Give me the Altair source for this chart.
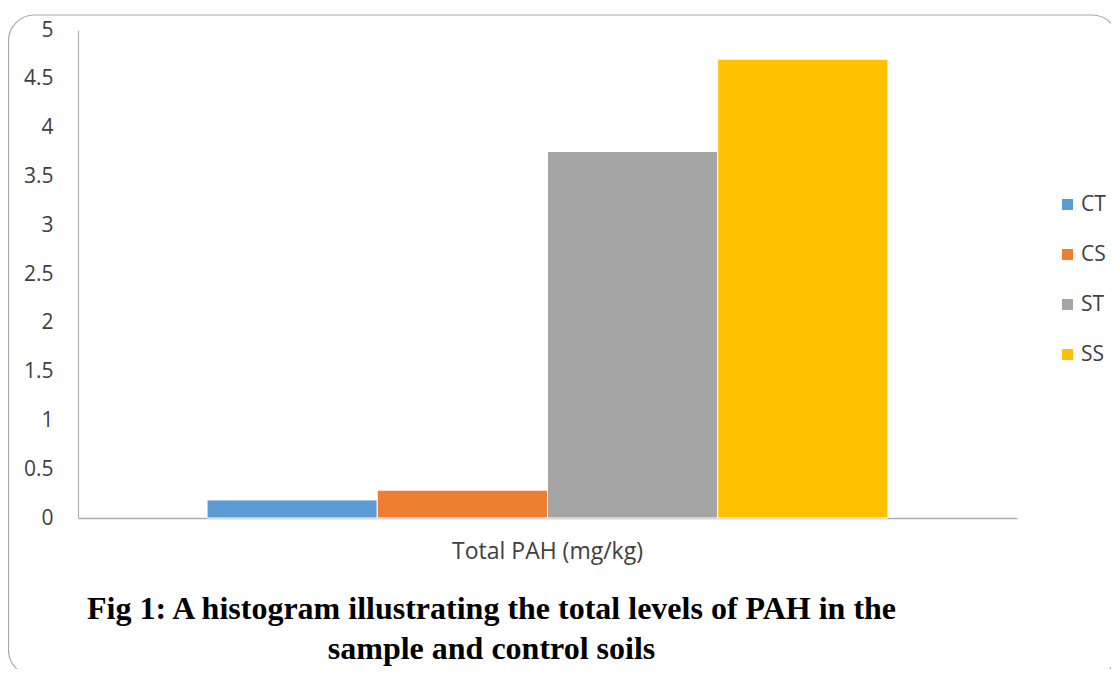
import altair as alt
import pandas as pd

series = ["CT", "CS", "ST", "SS"]
values = [0.185, 0.285, 3.755, 4.70]
group = ["Total PAH (mg/kg)"] * 4
colors = ["#5B9BD5", "#ED7D31", "#A5A5A5", "#FFC000"]
y_ticks = [0, 0.5, 1, 1.5, 2, 2.5, 3, 3.5, 4, 4.5, 5]
caption = ["Fig 1:  A histogram illustrating the total levels of PAH in the",
           "sample and control soils"]

df = pd.DataFrame({"group": group, "series": series, "value": values})

W, H = 939, 488
PAD = {"left": 70, "top": 22, "right": 94, "bottom": 151}

border = alt.Chart(pd.DataFrame({"k": [0]})).mark_rect(
    filled=False, stroke="#a8a8a8", strokeWidth=1.2, cornerRadius=26
).encode(
    x=alt.value(-69.5), x2=alt.value(1040),
    y=alt.value(-15), y2=alt.value(646)
)

bars = alt.Chart(df).mark_bar(stroke="white", strokeWidth=1).encode(
    x=alt.X("group:N", title=None,
            scale=alt.Scale(paddingInner=0, paddingOuter=0),
            axis=alt.Axis(labelAngle=0, ticks=False, labelPadding=22,
                          labelFontSize=23, labelColor="#404040",
                          labelFont="Open Sans", labelLimit=500,
                          domainColor="#b0b0b0", domainWidth=1.5)),
    xOffset=alt.XOffset("series:N", sort=series,
                        scale=alt.Scale(paddingOuter=0.758, paddingInner=0)),
    y=alt.Y("value:Q", title=None,
            scale=alt.Scale(domain=[0, 5]),
            axis=alt.Axis(values=y_ticks, grid=False, ticks=False,
                          format="~g",
                          labelPadding=25, labelFontSize=21,
                          labelColor="#404040", labelFont="Open Sans",
                          domainColor="#b0b0b0", domainWidth=1.2,
                          labelFlush=False)),
    color=alt.Color("series:N", sort=series,
                    scale=alt.Scale(domain=series, range=colors),
                    legend=alt.Legend(title=None, orient="none",
                                      legendX=979, legendY=164,
                                      symbolType="square", symbolSize=121,
                                      symbolStrokeWidth=0,
                                      labelFontSize=21, labelFont="Open Sans",
                                      labelColor="#404040", labelOffset=3,
                                      rowPadding=28, padding=0)),
)

chart = alt.layer(border, bars).properties(
    width=W, height=H,
    autosize=alt.AutoSizeParams(type="none"),
    padding=PAD,
    title=alt.TitleParams(caption, orient="bottom", anchor="middle",
                          font="Liberation Serif", fontWeight="bold",
                          fontSize=32, lineHeight=40, color="#000000",
                          offset=-83, dx=-56),
).configure_view(stroke=None)

chart.save("out.html", embed_options={"renderer": "svg", "actions": False})
